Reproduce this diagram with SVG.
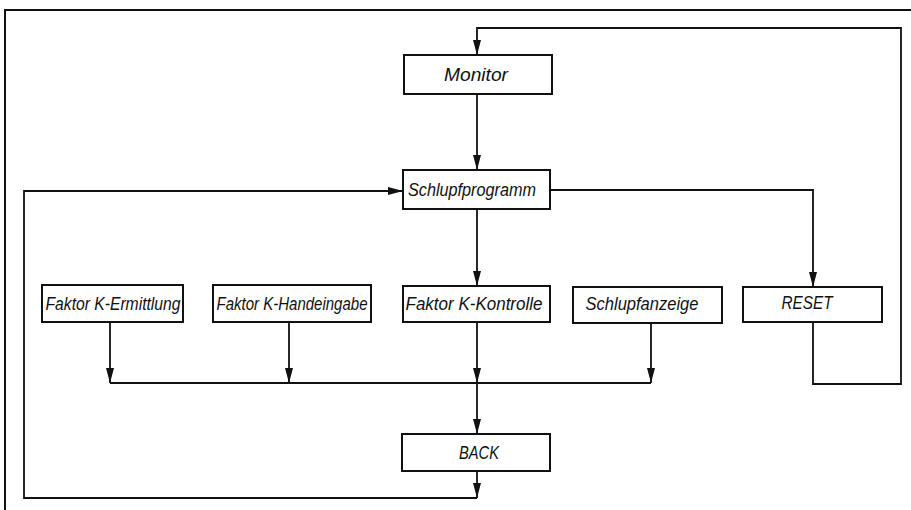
<svg xmlns="http://www.w3.org/2000/svg" width="911" height="510" viewBox="0 0 911 510">
<style>
.box{fill:#fff;stroke:#111;stroke-width:2}
.lbl{font-family:"Liberation Sans",Arial,sans-serif;font-style:italic;font-size:18px;fill:#111;text-anchor:middle}
.ln{fill:none;stroke:#111;stroke-width:1.8}
.frame{fill:none;stroke:#111;stroke-width:2}
</style>
<defs>
<marker id="ah" markerUnits="userSpaceOnUse" markerWidth="15" markerHeight="8" refX="15" refY="4" orient="auto">
<path d="M0,0 L15,4 L0,8 z" fill="#111"/>
</marker>
</defs>
<rect width="911" height="510" fill="#fff"/>
<path class="frame" d="M911,10 L5,10 L5,510"/>
<g id="connectors">
<path class="ln" d="M813,322 L813,384 L901,384 L901,28 L477,28 L477,55" marker-end="url(#ah)"/>
<path class="ln" d="M477,94 L477,170" marker-end="url(#ah)"/>
<path class="ln" d="M477,209 L477,286" marker-end="url(#ah)"/>
<path class="ln" d="M550,190 L813,190 L813,287" marker-end="url(#ah)"/>
<path class="ln" d="M110,322 L110,383" marker-end="url(#ah)"/>
<path class="ln" d="M289,322 L289,383" marker-end="url(#ah)"/>
<path class="ln" d="M477,322 L477,383" marker-end="url(#ah)"/>
<path class="ln" d="M651,323 L651,383" marker-end="url(#ah)"/>
<path class="ln" d="M110,383 L651,383"/>
<path class="ln" d="M477,383 L477,434" marker-end="url(#ah)"/>
<path class="ln" d="M477,471 L477,498" marker-end="url(#ah)"/>
<path class="ln" d="M477,498 L24,498 L24,191 L403,191" marker-end="url(#ah)"/>
</g>
<g id="monitor"><rect class="box" x="404" y="55" width="148" height="39"/><text class="lbl" x="476" y="81" textLength="64" lengthAdjust="spacingAndGlyphs">Monitor</text></g>
<g id="schlupfprogramm"><rect class="box" x="403" y="170" width="147" height="39"/><text class="lbl" x="472" y="196" textLength="128" lengthAdjust="spacingAndGlyphs">Schlupfprogramm</text></g>
<g id="ermittlung"><rect class="box" x="42" y="285" width="141" height="37"/><text class="lbl" x="113" y="310" textLength="135" lengthAdjust="spacingAndGlyphs">Faktor K-Ermittlung</text></g>
<g id="handeingabe"><rect class="box" x="213" y="285" width="158" height="37"/><text class="lbl" x="292" y="310" textLength="151" lengthAdjust="spacingAndGlyphs">Faktor K-Handeingabe</text></g>
<g id="kontrolle"><rect class="box" x="403" y="286" width="147" height="36"/><text class="lbl" x="474" y="310" textLength="137" lengthAdjust="spacingAndGlyphs">Faktor K-Kontrolle</text></g>
<g id="schlupfanzeige"><rect class="box" x="573" y="287" width="149" height="36"/><text class="lbl" x="642" y="310" textLength="113" lengthAdjust="spacingAndGlyphs">Schlupfanzeige</text></g>
<g id="reset"><rect class="box" x="743" y="287" width="139" height="35"/><text class="lbl" x="807" y="309" textLength="51" lengthAdjust="spacingAndGlyphs">RESET</text></g>
<g id="back"><rect class="box" x="402" y="434" width="148" height="37"/><text class="lbl" x="479" y="459" textLength="40" lengthAdjust="spacingAndGlyphs">BACK</text></g>
</svg>
